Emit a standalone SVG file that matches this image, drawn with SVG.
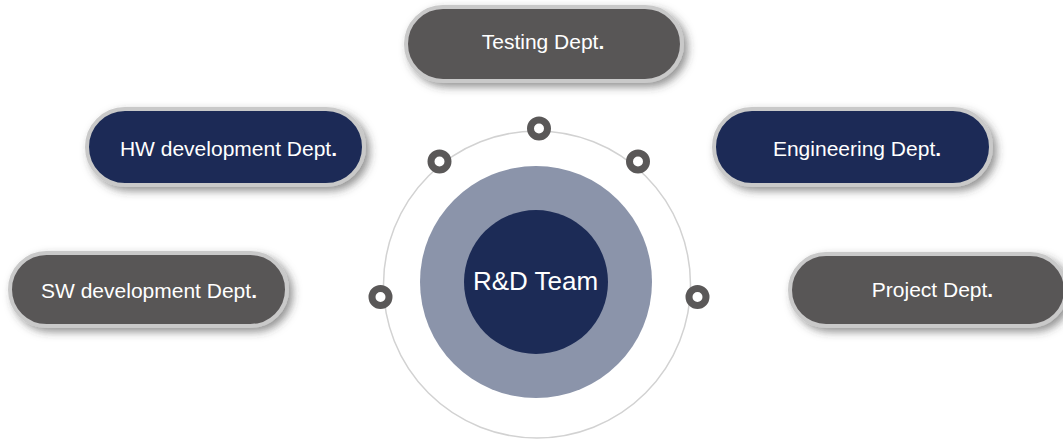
<svg xmlns="http://www.w3.org/2000/svg" width="1063" height="441" viewBox="0 0 1063 441">
  <defs>
    <filter id="shadow" x="-20%" y="-40%" width="140%" height="190%">
      <feDropShadow dx="4" dy="4" stdDeviation="4" flood-color="#3a3a3a" flood-opacity="0.55"/>
    </filter>
  </defs>
  <style>
    .pill { stroke: #c9c9c9; stroke-width: 4; filter: url(#shadow); }
    .gray { fill: #595657; }
    .navy { fill: #1c2b56; }
    .lbl { font-family: "Liberation Sans", Arial, sans-serif; font-size: 21px; fill: #ffffff; text-anchor: middle; }
    .dot { font-weight: bold; }
    .ring { fill: #ffffff; stroke: #5a5858; stroke-width: 7; }
  </style>
  <rect width="1063" height="441" fill="#ffffff"/>

  <g id="orbit">
    <circle cx="537" cy="284.5" r="153.5" fill="none" stroke="#d2d2d2" stroke-width="1.5"/>
    <circle class="ring" cx="539" cy="128.5" r="8.5"/>
    <circle class="ring" cx="439.5" cy="161.5" r="8.5"/>
    <circle class="ring" cx="638" cy="161.5" r="8.5"/>
    <circle class="ring" cx="380.5" cy="297" r="8.5"/>
    <circle class="ring" cx="697.5" cy="297" r="8.5"/>
  </g>

  <g id="center">
    <circle cx="536" cy="282" r="116" fill="#8b94aa"/>
    <circle cx="536" cy="282" r="72" fill="#1c2b56"/>
    <text x="535.5" y="289.5" font-family="Liberation Sans, Arial, sans-serif" font-size="26" fill="#ffffff" text-anchor="middle">R&amp;D Team</text>
  </g>

  <g id="testing">
    <rect class="pill gray" x="406" y="7" width="276" height="74" rx="37"/>
    <text class="lbl" x="543" y="48.5">Testing Dept<tspan class="dot">.</tspan></text>
  </g>

  <g id="hw">
    <rect class="pill navy" x="87" y="109" width="277" height="76" rx="38"/>
    <text class="lbl" x="228.5" y="156">HW development Dept<tspan class="dot">.</tspan></text>
  </g>

  <g id="engineering">
    <rect class="pill navy" x="714" y="109" width="277" height="76" rx="38"/>
    <text class="lbl" x="857" y="155.5">Engineering Dept<tspan class="dot">.</tspan></text>
  </g>

  <g id="sw">
    <rect class="pill gray" x="10" y="253" width="277" height="73" rx="36.5"/>
    <text class="lbl" x="149" y="298">SW development Dept<tspan class="dot">.</tspan></text>
  </g>

  <g id="project">
    <rect class="pill gray" x="790" y="254" width="276" height="72" rx="36"/>
    <text class="lbl" x="932.5" y="297">Project Dept<tspan class="dot">.</tspan></text>
  </g>
</svg>
